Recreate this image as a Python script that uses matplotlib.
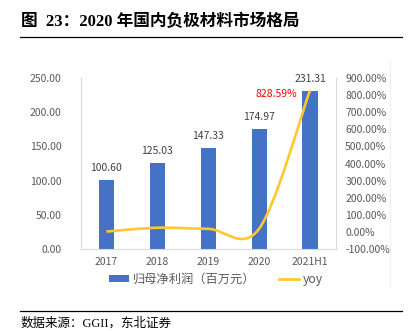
import numpy as np
import matplotlib.pyplot as plt
from matplotlib.path import Path
from matplotlib.patches import PathPatch, Patch
from matplotlib.lines import Line2D

plt.rcParams['font.family'] = ['Noto Sans CJK SC', 'DejaVu Sans']

# 数据
years = ['2017', '2018', '2019', '2020', '2021H1']
profit = [100.60, 125.03, 147.33, 174.97, 231.31]   # 归母净利润（百万元）
yoy = [2.0, 24.28, 17.83, 18.76, 828.59]             # 同比增速 %

left_ticks = [0, 50, 100, 150, 200, 250]
right_ticks = [-100, 0, 100, 200, 300, 400, 500, 600, 700, 800, 900]

blue = '#4472C4'
gold = '#FFC830'
grey = '#595959'
axis_grey = '#D9D9D9'


# 平滑折线（Catmull-Rom 转三次贝塞尔）
def smooth_path(xs, ys):
    pts = np.column_stack([xs, ys]).astype(float)
    n = len(pts)
    verts = [pts[0]]
    codes = [Path.MOVETO]
    for i in range(n - 1):
        p0 = pts[max(i - 1, 0)]
        p1 = pts[i]
        p2 = pts[i + 1]
        p3 = pts[min(i + 2, n - 1)]
        c1 = p1 + (p2 - p0) / 6
        c2 = p2 - (p3 - p1) / 6
        verts += [c1, c2, p2]
        codes += [Path.CURVE4] * 3
    return Path(verts, codes)


fig = plt.figure(figsize=(4.11, 3.31), dpi=100)

# 标题和分隔线
fig.text(21 / 411, 1 - 22 / 331, '图  23：2020 年国内负极材料市场格局', fontsize=12,
         fontweight='bold', family=['Liberation Serif', 'Noto Sans CJK SC'],
         ha='left', va='center', color='black')
fig.add_artist(Line2D([20 / 411, 402 / 411], [1 - 37 / 331, 1 - 37 / 331],
                      color='black', lw=0.9))
fig.add_artist(Line2D([20 / 411, 402 / 411], [1 - 311 / 331, 1 - 311 / 331],
                      color='black', lw=0.9))
fig.text(21 / 411, 1 - 323 / 331, '数据来源：GGII，东北证券', fontsize=9,
         family=['Liberation Serif', 'Noto Sans CJK SC'],
         ha='left', va='center', color='black')
# 图表区右边框
fig.add_artist(Line2D([390 / 411, 390 / 411], [1 - 60 / 331, 1 - 288 / 331],
                      color='#F0F0F0', lw=0.8))

ax = fig.add_axes([81 / 411, 82 / 331, (335.5 - 81) / 411, 171 / 331])
x = np.arange(len(years))
ax.bar(x, profit, width=0.3, color=blue, zorder=2)
for xi, v in zip(x, profit):
    ax.annotate(f'{v:.2f}', (xi, v), xytext=(0, 12), textcoords='offset pixels',
                ha='center', va='center', fontsize=7.5, color='#404040')

ax.set_xlim(-0.5, len(years) - 0.5)
ax.set_ylim(0, 250)
ax.set_yticks(left_ticks)
ax.set_yticklabels([f'{t:.2f}' for t in left_ticks])
ax.set_xticks(x)
ax.set_xticklabels(years)
ax.tick_params(axis='y', length=0, pad=14, labelsize=7.5, labelcolor=grey)
ax.tick_params(axis='x', length=0, pad=6, labelsize=7.5, labelcolor=grey)
for side in ['top', 'right']:
    ax.spines[side].set_visible(False)
for side in ['left', 'bottom']:
    ax.spines[side].set_color(axis_grey)
    ax.spines[side].set_linewidth(0.8)

ax2 = ax.twinx()
ax2.set_ylim(-100, 900)
ax2.set_yticks(right_ticks)
ax2.set_yticklabels([f'{t:.2f}%' for t in right_ticks])
ax2.tick_params(axis='y', length=0, pad=7, labelsize=7.5, labelcolor=grey)
for side in ['top', 'left', 'bottom']:
    ax2.spines[side].set_visible(False)
ax2.spines['right'].set_color(axis_grey)
ax2.spines['right'].set_linewidth(0.8)

ax2.add_patch(PathPatch(smooth_path(x, yoy), fill=False, edgecolor=gold,
                        lw=1.9, capstyle='butt', zorder=3))
ax2.annotate(f'{yoy[-1]:.2f}%', (x[-1], yoy[-1]), xytext=(-13, -4),
             textcoords='offset pixels', ha='right', va='center',
             fontsize=7.5, color='#FF0000')

handles = [Patch(facecolor=blue, edgecolor='none'),
           Line2D([], [], color=gold, lw=2)]
fig.legend(handles, ['归母净利润（百万元）', 'yoy'], loc='center',
           bbox_to_anchor=(216 / 411, 1 - 279 / 331), ncol=2, frameon=False,
           fontsize=8.8, labelcolor=grey, handlelength=1.6, handleheight=0.5,
           handletextpad=0.3, columnspacing=2.0, borderpad=0)

fig.savefig('out.png', dpi=100)
